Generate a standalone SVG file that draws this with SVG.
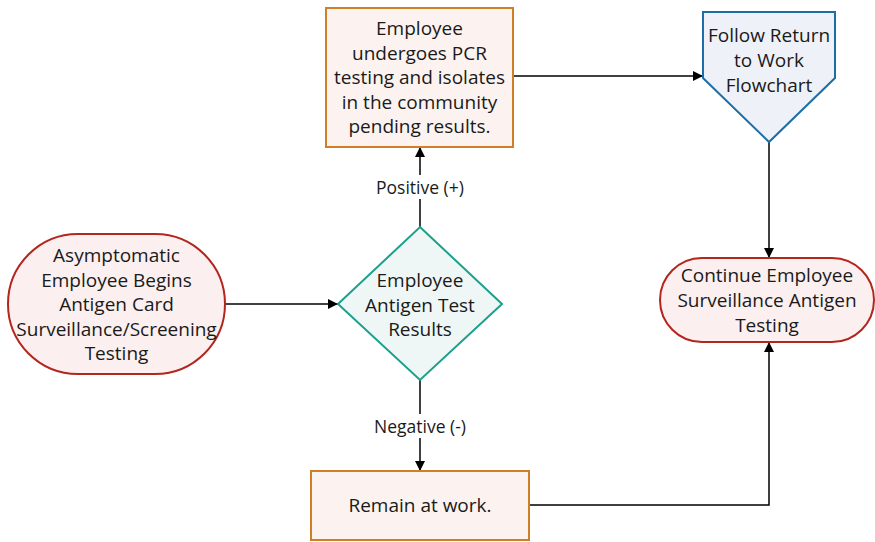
<svg xmlns="http://www.w3.org/2000/svg" width="875" height="542" viewBox="0 0 875 542">
<defs>
<marker id="ah" viewBox="0 0 10 10" refX="10" refY="5" markerWidth="10" markerHeight="10" markerUnits="userSpaceOnUse" orient="auto">
<path d="M0,0 L10,5 L0,10 z" fill="#000"/>
</marker>
<style>
.t{font-family:"Open Sans","Liberation Sans",sans-serif;font-size:19px;fill:#1a1a1a;text-anchor:middle;dominant-baseline:central}
.l{font-family:"Open Sans","Liberation Sans",sans-serif;font-size:17.5px;fill:#1a1a1a;text-anchor:middle;dominant-baseline:central}
.red{fill:#fbefef;stroke:#b3261e;stroke-width:2}
.org{fill:#fcf3f0;stroke:#cf7f26;stroke-width:2}
.blu{fill:#eef2f8;stroke:#1f6ea3;stroke-width:2}
.tea{fill:#eef7f5;stroke:#1aa08c;stroke-width:2}
.c{fill:none;stroke:#000;stroke-width:1.5;marker-end:url(#ah)}
</style>
</defs>
<rect width="875" height="542" fill="#fff"/>
<g id="connectors">
<path class="c" d="M225,304 H338"/>
<path class="c" d="M420,227 V147"/>
<path class="c" d="M420,380 V471"/>
<path class="c" d="M513,76 H703"/>
<path class="c" d="M769,142 V258"/>
<path class="c" d="M529,505 H769 V342"/>
<rect x="368" y="175" width="104" height="24" fill="#fff"/>
<text class="l" x="420" y="187">Positive (+)</text>
<rect x="366" y="414" width="108" height="24" fill="#fff"/>
<text class="l" x="420" y="426">Negative (-)</text>
</g>
<g id="start">
<rect class="red" x="8" y="234" width="217" height="140" rx="70" ry="70"/>
<text class="t" x="116.5" y="255">Asymptomatic</text>
<text class="t" x="116.5" y="279.5">Employee Begins</text>
<text class="t" x="116.5" y="304">Antigen Card</text>
<text class="t" x="116.5" y="328.5">Surveillance/Screening</text>
<text class="t" x="116.5" y="353">Testing</text>
</g>
<g id="decision">
<polygon class="tea" points="420,227 502,304 420,380 338,304"/>
<text class="t" x="420" y="280">Employee</text>
<text class="t" x="420" y="304.5">Antigen Test</text>
<text class="t" x="420" y="329">Results</text>
</g>
<g id="pcr">
<rect class="org" x="326" y="8" width="187" height="139"/>
<text class="t" x="419.5" y="28">Employee</text>
<text class="t" x="419.5" y="52.5">undergoes PCR</text>
<text class="t" x="419.5" y="77">testing and isolates</text>
<text class="t" x="419.5" y="101.5">in the community</text>
<text class="t" x="419.5" y="126">pending results.</text>
</g>
<g id="rtw">
<polygon class="blu" points="703,12 835,12 835,78 769,142 703,78"/>
<text class="t" x="769" y="35">Follow Return</text>
<text class="t" x="769" y="60">to Work</text>
<text class="t" x="769" y="85">Flowchart</text>
</g>
<g id="continue">
<rect class="red" x="660" y="258" width="214" height="84" rx="42" ry="42"/>
<text class="t" x="767" y="275">Continue Employee</text>
<text class="t" x="767" y="300">Surveillance Antigen</text>
<text class="t" x="767" y="325">Testing</text>
</g>
<g id="remain">
<rect class="org" x="311" y="471" width="218" height="69"/>
<text class="t" x="420" y="505">Remain at work.</text>
</g>
</svg>
